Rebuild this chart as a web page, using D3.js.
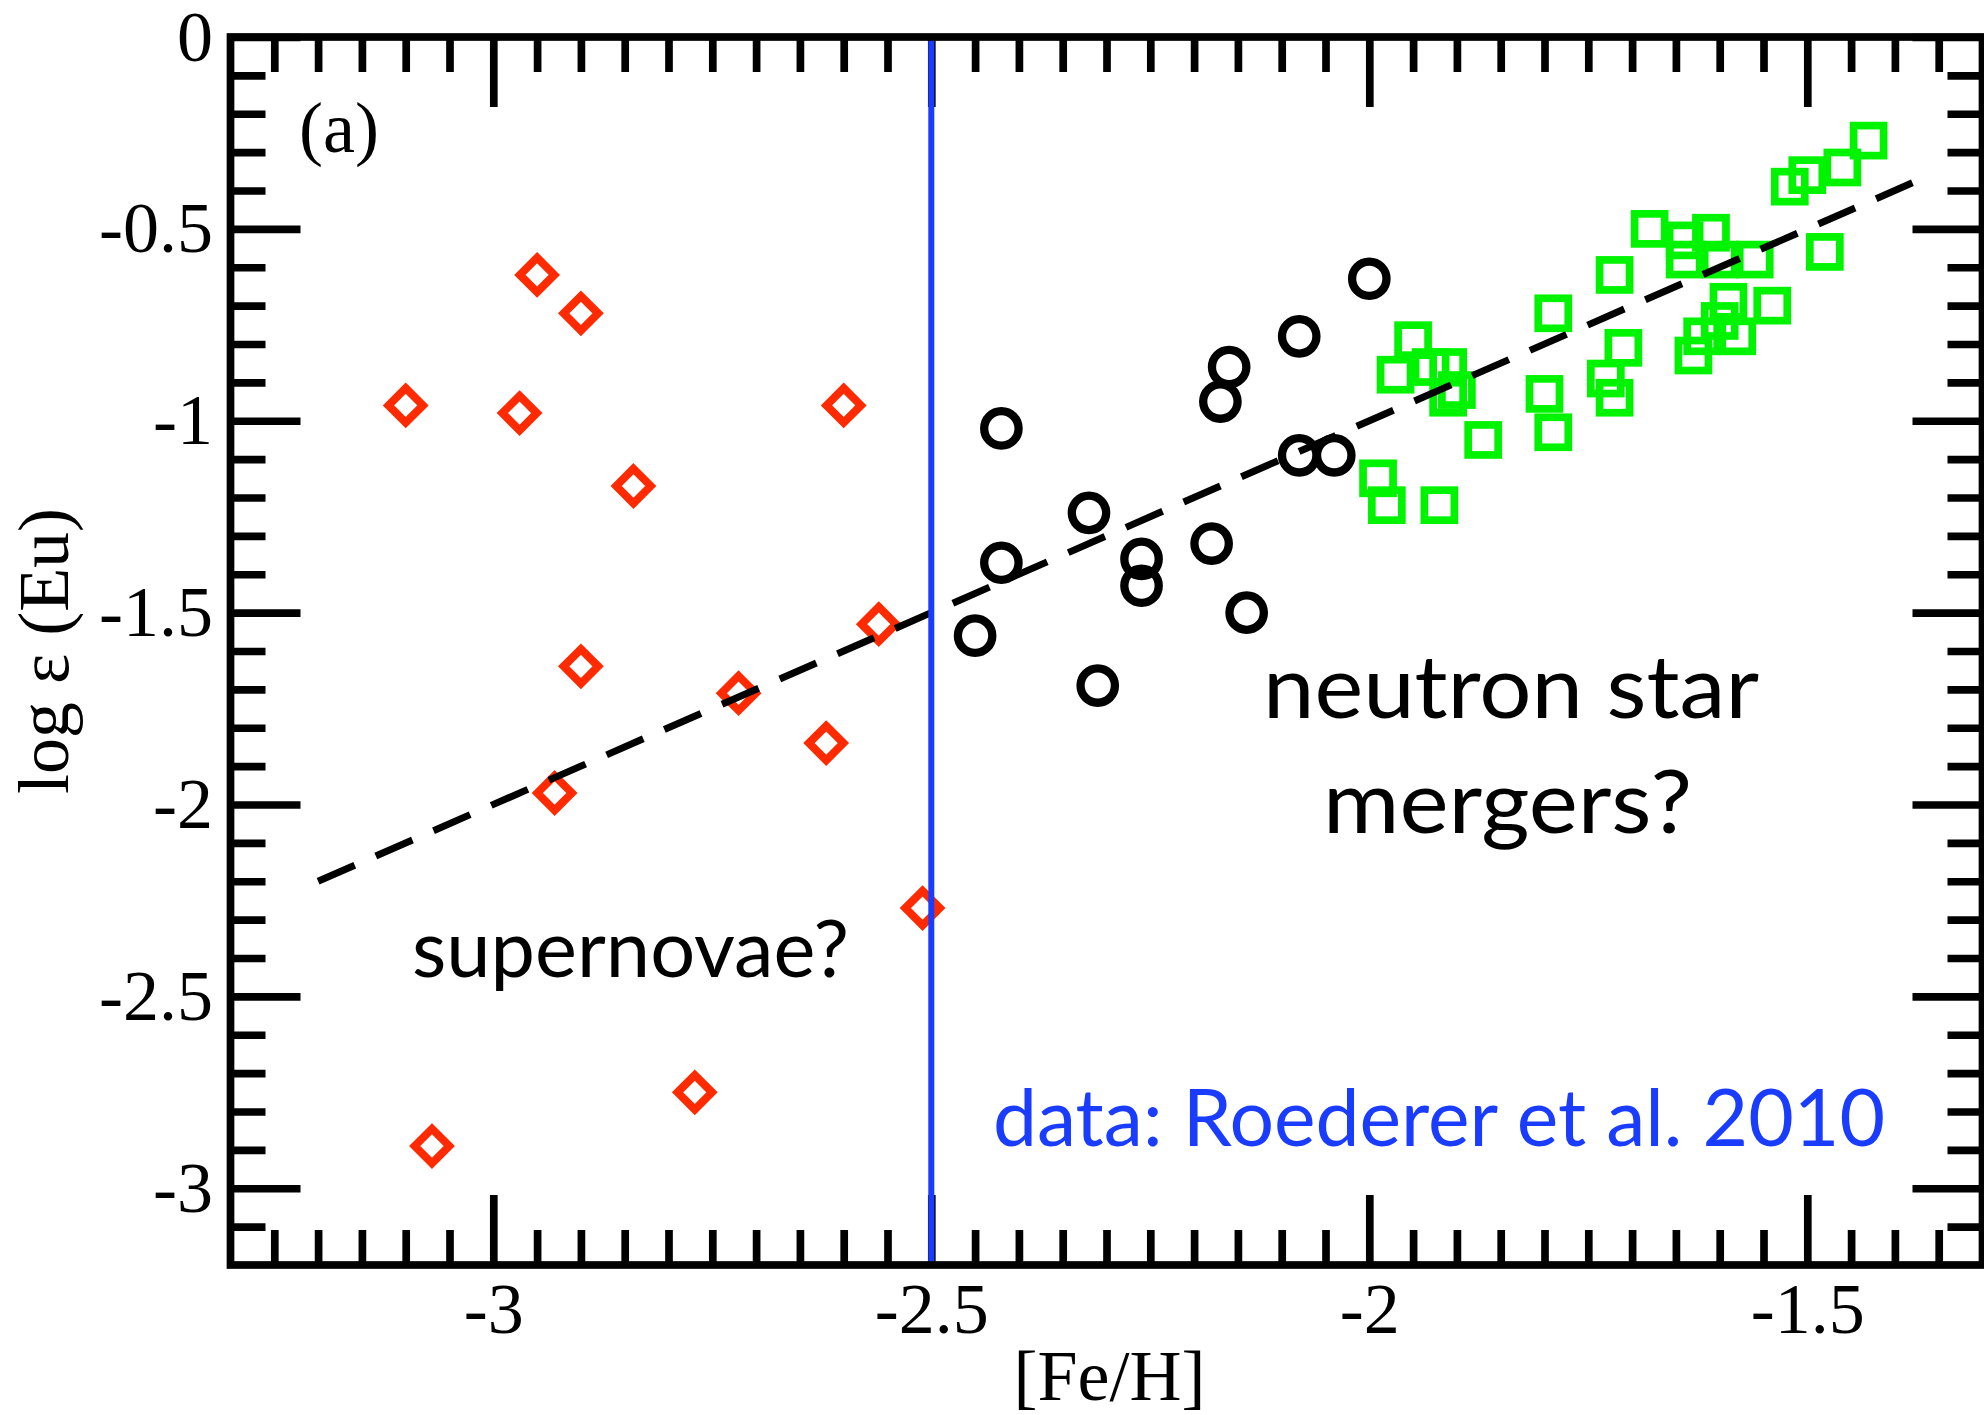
<!DOCTYPE html>
<html>
<head>
<meta charset="utf-8">
<script src="https://cdn.jsdelivr.net/npm/d3@7"></script>
<style>
  html, body { margin: 0; padding: 0; background: #ffffff; }
  svg { display: block; }
</style>
</head>
<body>
<svg id="chart" width="1984" height="1415"></svg>
<script>
// Metal-poor halo stars: europium abundance against metallicity
const redFeH = [-3.10, -2.97, -2.95, -2.90, -2.84, -2.90, -2.93, -2.72, -2.62, -2.56, -2.60, -2.51, -3.07, -2.77];
const redEu  = [-0.96, -0.98, -0.62, -0.72, -1.17, -1.64, -1.97, -1.71, -1.84, -1.53, -0.96, -2.27, -2.89, -2.75];

const blackFeH = [-2.42, -2.32, -2.42, -2.45, -2.31, -2.26, -2.26, -2.18, -2.14, -2.16, -2.17, -2.08, -2.08, -2.04, -2.00];
const blackEu  = [-1.02, -1.24, -1.37, -1.56, -1.69, -1.36, -1.43, -1.32, -1.50, -0.86, -0.95, -0.78, -1.09, -1.09, -0.63];

const greenFeH = [-1.43, -1.46, -1.50, -1.52, -1.68, -1.64, -1.64, -1.61, -1.60, -1.56, -1.48, -1.59, -1.54, -1.60, -1.62, -1.58, -1.63,
                  -1.72, -1.79, -1.71, -1.73, -1.72, -1.80, -1.79, -1.87, -1.95, -1.97, -1.93, -1.91, -1.90, -1.91, -1.99, -1.98, -1.92];
const greenEu  = [-0.27, -0.34, -0.36, -0.39, -0.50, -0.53, -0.58, -0.51, -0.58, -0.58, -0.56, -0.69, -0.70, -0.74, -0.78, -0.78, -0.83,
                  -0.62, -0.72, -0.81, -0.89, -0.94, -0.93, -1.03, -1.05, -0.79, -0.88, -0.86, -0.86, -0.92, -0.94, -1.15, -1.22, -1.22];

// Linear trend and metallicity cut
const trendFeH = [-3.20, -1.38];
const trendEu  = [-2.20, -0.38];
const cutFeH = -2.5;

// Axes
const xDomain = [-3.3, -1.3];
const yDomain = [-3.2, 0];
const xMajorTicks = [-3, -2.5, -2, -1.5];
const xTickLabels = ["-3", "-2.5", "-2", "-1.5"];
const yMajorTicks = [0, -0.5, -1, -1.5, -2, -2.5, -3];
const yTickLabels = ["0", "-0.5", "-1", "-1.5", "-2", "-2.5", "-3"];
const xMinorStep = 0.05;
const yMinorStep = 0.1;

const xTitle = "[Fe/H]";
const yTitle = "log \u03b5 (Eu)";
const panelTag = "(a)";
const noteSN = "supernovae?";
const noteNS1 = "neutron star";
const noteNS2 = "mergers?";
const noteData = "data: Roederer et al. 2010";

// ---------- drawing ----------
const svg = d3.select("#chart");
const L = 230.5, R = 1982.5, T = 37, B = 1265;
const x = d3.scaleLinear().domain(xDomain).range([L, R]);
const y = d3.scaleLinear().domain(yDomain).range([B, T]);

const serif = "'Liberation Serif', 'Times New Roman', serif";
const sans = "Lato, 'Open Sans', sans-serif";
const RED = "#ff2a00", GREEN = "#00f400", BLUE = "#1a3cff";

svg.append("rect").attr("width", 1984).attr("height", 1415).attr("fill", "#fff");

// markers
const zip = (a, b) => a.map((v, i) => [v, b[i]]);
const dia = 17.25;
svg.append("g").selectAll("path").data(zip(redFeH, redEu)).join("path")
  .attr("d", d => {
    const cx = x(d[0]), cy = y(d[1]);
    return `M${cx},${cy - dia}L${cx + dia},${cy}L${cx},${cy + dia}L${cx - dia},${cy}Z`;
  })
  .attr("fill", "none").attr("stroke", RED).attr("stroke-width", 8).attr("stroke-linejoin", "miter");

svg.append("g").selectAll("circle").data(zip(blackFeH, blackEu)).join("circle")
  .attr("cx", d => x(d[0])).attr("cy", d => y(d[1])).attr("r", 17.2)
  .attr("fill", "none").attr("stroke", "#000").attr("stroke-width", 8.3);

const hs = 15;
svg.append("g").selectAll("rect").data(zip(greenFeH, greenEu)).join("rect")
  .attr("x", d => x(d[0]) - hs).attr("y", d => y(d[1]) - hs)
  .attr("width", 2 * hs).attr("height", 2 * hs)
  .attr("fill", "none").attr("stroke", GREEN).attr("stroke-width", 7.7).attr("stroke-linejoin", "miter");

// dashed trend
svg.append("path")
  .datum(zip(trendFeH, trendEu))
  .attr("d", d3.line().x(d => x(d[0])).y(d => y(d[1])))
  .attr("fill", "none").attr("stroke", "#000").attr("stroke-width", 7)
  .attr("stroke-dasharray", "40,23");

// ticks
const round = v => Math.round(v * 1000) / 1000;
const xMinor = d3.range(Math.round(xDomain[0] / xMinorStep) + 1, Math.round(xDomain[1] / xMinorStep))
  .map(i => round(i * xMinorStep)).filter(v => !xMajorTicks.includes(v));
const yMinor = d3.range(Math.round(yDomain[0] / yMinorStep) + 1, Math.round(yDomain[1] / yMinorStep))
  .map(i => round(i * yMinorStep)).filter(v => !yMajorTicks.includes(v));

const MAJ = 70, MIN = 35, TW = 7.7;
function styleAxis(g) {
  g.select(".domain").remove();
  g.selectAll(".tick line").attr("stroke", "#000").attr("stroke-width", TW);
}
function addAxis(axis, tx, ty) {
  return svg.append("g").attr("transform", `translate(${tx},${ty})`).call(axis).call(styleAxis);
}

// bottom
addAxis(d3.axisBottom(x).tickValues(xMinor).tickSize(-MIN).tickFormat(""), 0, B);
const gxb = addAxis(d3.axisBottom(x).tickValues(xMajorTicks).tickSize(-MAJ).tickPadding(17)
  .tickFormat((d, i) => xTickLabels[i]), 0, B);
// top
addAxis(d3.axisTop(x).tickValues(xMinor).tickSize(-MIN).tickFormat(""), 0, T);
addAxis(d3.axisTop(x).tickValues(xMajorTicks).tickSize(-MAJ).tickFormat(""), 0, T);
// left
addAxis(d3.axisLeft(y).tickValues(yMinor).tickSize(-MIN).tickFormat(""), L, 0);
const gyl = addAxis(d3.axisLeft(y).tickValues(yMajorTicks).tickSize(-MAJ).tickPadding(17.5)
  .tickFormat((d, i) => yTickLabels[i]), L, 0);
// right
addAxis(d3.axisRight(y).tickValues(yMinor).tickSize(-MIN).tickFormat(""), R, 0);
addAxis(d3.axisRight(y).tickValues(yMajorTicks).tickSize(-MAJ).tickFormat(""), R, 0);

[gxb, gyl].forEach(g => g.selectAll(".tick text")
  .attr("font-family", serif).attr("font-size", 72).attr("fill", "#000"));

// metallicity cut, drawn over the tick marks
svg.append("line")
  .attr("x1", x(cutFeH)).attr("x2", x(cutFeH)).attr("y1", y(yDomain[1])).attr("y2", y(yDomain[0]))
  .attr("stroke", BLUE).attr("stroke-width", 6);

// frame
svg.append("rect").attr("x", L).attr("y", T).attr("width", R - L).attr("height", B - T)
  .attr("fill", "none").attr("stroke", "#000").attr("stroke-width", 7.7);

// titles
svg.append("text").attr("x", (L + R) / 2 + 3).attr("y", 1400)
  .attr("text-anchor", "middle").attr("font-family", serif).attr("font-size", 72).text(xTitle);
svg.append("text").attr("transform", `translate(68,${(T + B) / 2}) rotate(-90)`)
  .attr("text-anchor", "middle").attr("font-family", serif).attr("font-size", 72).text(yTitle);
svg.append("text").attr("x", 299).attr("y", 152)
  .attr("font-family", serif).attr("font-size", 72).text(panelTag);

// annotations
function note(str, x0, x1, base, size, color) {
  svg.append("text").attr("x", x0).attr("y", base)
    .attr("font-family", sans).attr("font-size", size).attr("fill", color)
    .attr("textLength", x1 - x0).attr("lengthAdjust", "spacingAndGlyphs").text(str);
}
note(noteSN, 412, 849, 977, 80, "#000");
note(noteNS1, 1263, 1759, 718, 88, "#000");
note(noteNS2, 1323, 1692, 833, 88, "#000");
note(noteData, 993, 1885, 1146, 80, BLUE);
</script>
</body>
</html>
